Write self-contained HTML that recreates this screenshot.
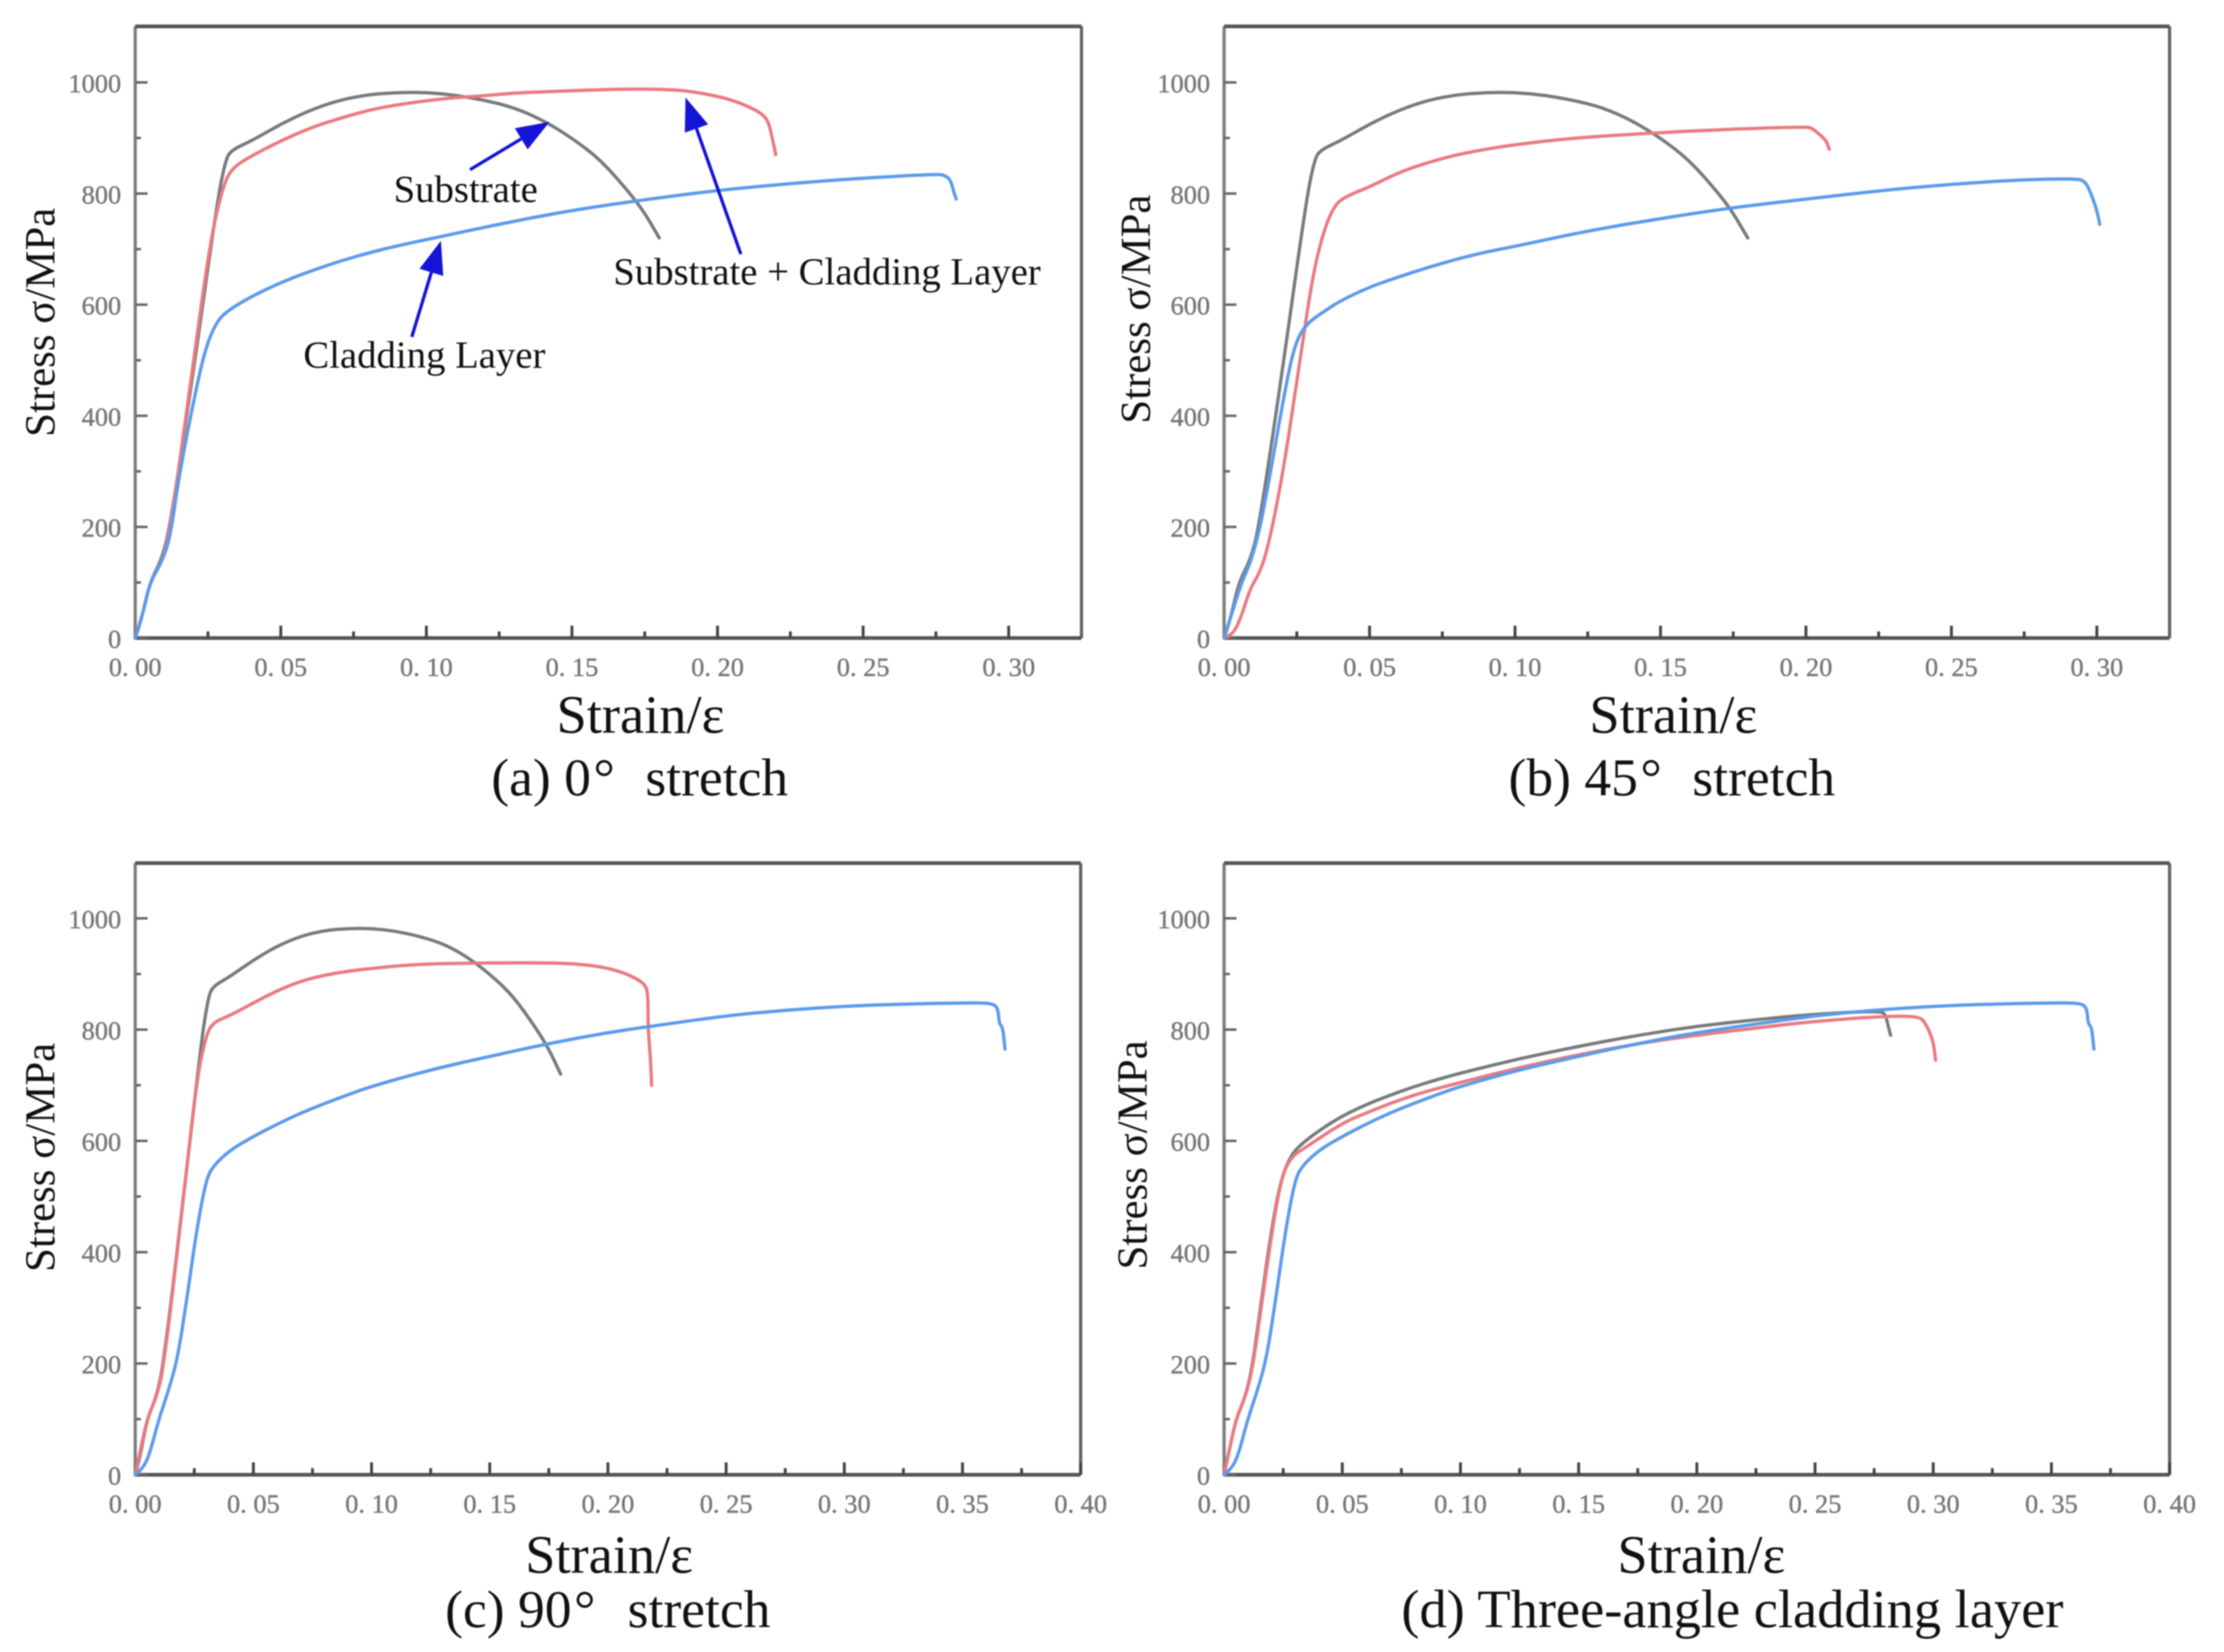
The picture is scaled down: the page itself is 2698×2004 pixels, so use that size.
<!DOCTYPE html>
<html lang="en">
<head>
<meta charset="utf-8">
<title>Stress-strain curves</title>
<style>
html,body{margin:0;padding:0;background:#fff;width:2698px;height:2004px;overflow:hidden}
svg{display:block;filter:blur(0.8px)}
text{font-family:"Liberation Serif","DejaVu Serif",serif;fill:#111}
.tick-label{font-size:32px;fill:#777;stroke:#777;stroke-width:0.5px}
.axis-title{font-size:66px}
.y-title{font-size:52px}
.caption{font-size:65px}
.caption-wide{font-size:66px}
.note{font-size:47px}
</style>
</head>
<body>
<svg id="chart" xmlns="http://www.w3.org/2000/svg" width="2698" height="2004" viewBox="0 0 2698 2004">
  <rect x="0" y="0" width="2698" height="2004" fill="#fff"/>
  <g id="panels"></g>

  <text class="y-title" text-anchor="middle" transform="translate(66 391) rotate(-90)">Stress σ/MPa</text>
  <text class="axis-title" text-anchor="middle" x="777" y="889">Strain/ε</text>
  <text class="caption" x="596" y="965">(a) 0<tspan dx="3">°</tspan><tspan dx="37">stretch</tspan></text>

  <text class="y-title" text-anchor="middle" transform="translate(1395 375) rotate(-90)">Stress σ/MPa</text>
  <text class="axis-title" text-anchor="middle" x="2030" y="889">Strain/ε</text>
  <text class="caption" x="1830" y="965">(b) 45<tspan dx="3">°</tspan><tspan dx="37">stretch</tspan></text>

  <text class="y-title" text-anchor="middle" transform="translate(66 1404) rotate(-90)">Stress σ/MPa</text>
  <text class="axis-title" text-anchor="middle" x="739" y="1908">Strain/ε</text>
  <text class="caption" x="540" y="1974">(c) 90<tspan dx="3">°</tspan><tspan dx="39">stretch</tspan></text>

  <text class="y-title" text-anchor="middle" transform="translate(1391 1401) rotate(-90)">Stress σ/MPa</text>
  <text class="axis-title" text-anchor="middle" x="2064" y="1908">Strain/ε</text>
  <text class="caption-wide" x="1700" y="1974">(d) Three-angle cladding layer</text>

  <text class="note" text-anchor="middle" x="565" y="245">Substrate</text>
  <text class="note" x="744" y="345">Substrate + Cladding Layer</text>
  <text class="note" x="368" y="446">Cladding Layer</text>
</svg>
<script>
// Tick values and labels
const yTicks = [0, 100, 200, 300, 400, 500, 600, 700, 800, 900, 1000];
const yTickLabels = ["0", "", "200", "", "400", "", "600", "", "800", "", "1000"];
const xTicks30 = [0, 0.025, 0.05, 0.075, 0.1, 0.125, 0.15, 0.175, 0.2, 0.225, 0.25, 0.275, 0.3];
const xTickLabels30 = ["0. 00", "", "0. 05", "", "0. 10", "", "0. 15", "", "0. 20", "", "0. 25", "", "0. 30"];
const xTicks40 = [0, 0.025, 0.05, 0.075, 0.1, 0.125, 0.15, 0.175, 0.2, 0.225, 0.25, 0.275, 0.3, 0.325, 0.35, 0.375, 0.4];
const xTickLabels40 = ["0. 00", "", "0. 05", "", "0. 10", "", "0. 15", "", "0. 20", "", "0. 25", "", "0. 30", "", "0. 35", "", "0. 40"];

// Substrate (same curve in panels a, b, c)
const substrateStrain = [0, 0.002, 0.005, 0.009, 0.012, 0.02, 0.028, 0.031, 0.033, 0.04, 0.05, 0.06, 0.07, 0.08, 0.09, 0.1, 0.11, 0.12, 0.13, 0.14, 0.15, 0.16, 0.17, 0.175, 0.18];
const substrateStress = [0, 30, 100, 140, 200, 480, 780, 860, 878, 895, 925, 950, 968, 978, 982, 982, 977, 968, 955, 932, 900, 860, 800, 765, 720];

// Panel a
const aCompositeStrain = [0, 0.003, 0.005, 0.009, 0.012, 0.02, 0.026, 0.03, 0.033, 0.04, 0.05, 0.06, 0.07, 0.08, 0.09, 0.1, 0.11, 0.12, 0.13, 0.14, 0.15, 0.16, 0.17, 0.18, 0.19, 0.2, 0.205, 0.21, 0.215, 0.2175, 0.219, 0.22];
const aCompositeStress = [0, 50, 100, 135, 190, 500, 720, 810, 845, 868, 895, 918, 935, 950, 960, 967, 973, 976, 981, 983, 985, 987, 988, 988, 985, 975, 968, 958, 945, 930, 895, 870];
const aCladdingStrain = [0, 0.002, 0.005, 0.009, 0.012, 0.015, 0.02, 0.024, 0.028, 0.032, 0.04, 0.05, 0.06, 0.07, 0.08, 0.09, 0.1, 0.125, 0.15, 0.175, 0.2, 0.225, 0.25, 0.275, 0.278, 0.28, 0.281, 0.282];
const aCladdingStress = [0, 30, 100, 135, 180, 290, 425, 520, 570, 590, 615, 640, 660, 678, 693, 706, 717, 745, 770, 789, 806, 818, 828, 835, 833, 825, 805, 790];

// Panel b
const bCompositeStrain = [0, 0.003, 0.006, 0.009, 0.012, 0.015, 0.02, 0.025, 0.03, 0.034, 0.038, 0.042, 0.05, 0.06, 0.07, 0.08, 0.09, 0.1, 0.12, 0.15, 0.18, 0.2, 0.202, 0.205, 0.207, 0.208];
const bCompositeStress = [0, 5, 40, 90, 115, 160, 290, 460, 640, 730, 780, 795, 812, 838, 856, 870, 880, 888, 900, 910, 917, 920, 918, 905, 895, 880];
const bCladdingStrain = [0, 0.003, 0.006, 0.009, 0.012, 0.015, 0.02, 0.024, 0.028, 0.035, 0.04, 0.05, 0.06, 0.07, 0.08, 0.09, 0.1, 0.125, 0.15, 0.175, 0.2, 0.225, 0.25, 0.275, 0.293, 0.296, 0.298, 0.3, 0.301];
const bCladdingStress = [0, 50, 100, 135, 190, 270, 420, 525, 565, 590, 607, 632, 650, 667, 682, 695, 705, 733, 755, 775, 790, 805, 817, 825, 827, 822, 800, 770, 745];

// Panel c
const cCompositeStrain = [0, 0.002, 0.005, 0.009, 0.012, 0.02, 0.026, 0.03, 0.033, 0.04, 0.05, 0.06, 0.07, 0.08, 0.09, 0.1, 0.12, 0.15, 0.18, 0.195, 0.205, 0.212, 0.216, 0.217, 0.217, 0.218, 0.2185];
const cCompositeStress = [0, 40, 100, 140, 190, 480, 710, 790, 813, 825, 848, 870, 887, 898, 905, 910, 918, 920, 920, 915, 905, 892, 880, 860, 800, 750, 700];
const cCladdingStrain = [0, 0.003, 0.006, 0.01, 0.014, 0.018, 0.022, 0.026, 0.03, 0.033, 0.04, 0.05, 0.06, 0.07, 0.08, 0.09, 0.1, 0.125, 0.15, 0.175, 0.2, 0.225, 0.25, 0.275, 0.3, 0.325, 0.35, 0.362, 0.365, 0.3655, 0.367, 0.368];
const cCladdingStress = [0, 10, 35, 100, 150, 210, 320, 440, 530, 555, 583, 608, 630, 650, 667, 683, 698, 728, 752, 775, 795, 810, 825, 835, 842, 846, 848, 848, 840, 810, 805, 765];

// Panel d (three-angle cladding layer)
const d0Strain = [0, 0.002, 0.005, 0.009, 0.012, 0.015, 0.02, 0.024, 0.028, 0.032, 0.04, 0.05, 0.06, 0.07, 0.08, 0.09, 0.1, 0.125, 0.15, 0.175, 0.2, 0.225, 0.25, 0.278, 0.28, 0.281, 0.282];
const d0Stress = [0, 40, 100, 140, 195, 290, 440, 530, 572, 592, 618, 645, 665, 682, 697, 710, 722, 748, 770, 790, 806, 818, 828, 834, 825, 805, 790];
const d45Strain = [0, 0.002, 0.005, 0.009, 0.012, 0.015, 0.02, 0.024, 0.028, 0.035, 0.05, 0.06, 0.07, 0.08, 0.09, 0.1, 0.125, 0.15, 0.175, 0.2, 0.225, 0.25, 0.275, 0.294, 0.297, 0.3, 0.301];
const d45Stress = [0, 40, 100, 140, 190, 280, 430, 530, 570, 590, 632, 650, 667, 682, 694, 705, 732, 755, 775, 790, 803, 815, 823, 825, 810, 780, 745];
const d90Strain = cCladdingStrain;
const d90Stress = cCladdingStress;

// Annotation arrows in data units (tail -> tip)
const arrowNames = ["substrate", "composite", "cladding"];
const arrowTailStrain = [0.115, 0.208, 0.095];
const arrowTailStress = [843, 691, 542];
const arrowTipStrain = [0.1423, 0.189, 0.105];
const arrowTipStress = [929, 973, 715];

const COLORS = { gray: "#777b7e", red: "#e97a80", blue: "#5c9bea" };
const NS = "http://www.w3.org/2000/svg";

function make(parent, tag, attrs) {
  const el = document.createElementNS(NS, tag);
  for (const k in attrs) el.setAttribute(k, attrs[k]);
  parent.appendChild(el);
  return el;
}

function smoothPath(pts) {
  let d = "M" + pts[0][0].toFixed(1) + " " + pts[0][1].toFixed(1);
  for (let i = 1; i < pts.length - 1; i++) {
    const mx = (pts[i][0] + pts[i + 1][0]) / 2;
    const my = (pts[i][1] + pts[i + 1][1]) / 2;
    d += "Q" + pts[i][0].toFixed(1) + " " + pts[i][1].toFixed(1) + " " + mx.toFixed(1) + " " + my.toFixed(1);
  }
  const last = pts[pts.length - 1];
  d += "L" + last[0].toFixed(1) + " " + last[1].toFixed(1);
  return d;
}

function drawPanel(cfg) {
  const root = document.getElementById("panels");
  const g = make(root, "g", {});
  
  

  const sx = v => cfg.left + (v / cfg.xMax) * (cfg.right - cfg.left);
  const sy = v => cfg.y0 - (v / 1000) * (cfg.y0 - cfg.y1000);

  const leftEdge = make(g, "line", { x1: cfg.left, x2: cfg.left, y1: cfg.top, y2: cfg.y0, stroke: "#808080", "stroke-width": 4 });
  
  
  const rightEdge = make(g, "line", { x1: cfg.right, x2: cfg.right, y1: cfg.top, y2: cfg.y0, stroke: "#666", "stroke-width": 4 });
  
  
  const topEdge = make(g, "line", { x1: cfg.left, x2: cfg.right, y1: cfg.top, y2: cfg.top, stroke: "#555", "stroke-width": 4.5 });
  
  
  const bottomEdge = make(g, "line", { x1: cfg.left, x2: cfg.right, y1: cfg.y0, y2: cfg.y0, stroke: "#555", "stroke-width": 4.5 });
  
  

  yTicks.forEach((v, i) => {
    const major = yTickLabels[i] !== "";
    const t = make(g, "line", { x1: cfg.left, x2: cfg.left + (major ? 15 : 7), y1: sy(v), y2: sy(v), stroke: "#666", "stroke-width": 3 });
    
    
    if (major) {
      const lab = make(g, "text", { x: cfg.left - 17, y: sy(v) + 12, "text-anchor": "end", class: "tick-label" });
      
      
      lab.textContent = yTickLabels[i];
    }
  });

  cfg.xTicks.forEach((v, i) => {
    const major = cfg.xLabels[i] !== "";
    if (v > 0) {
      const t = make(g, "line", { y1: cfg.y0, y2: cfg.y0 - (major ? 15 : 8), x1: sx(v), x2: sx(v), stroke: "#444", "stroke-width": 3.5 });
      
      
    }
    if (major) {
      const lab = make(g, "text", { x: sx(v), y: cfg.y0 + 46, "text-anchor": "middle", class: "tick-label" });
      
      
      lab.textContent = cfg.xLabels[i];
    }
  });

  cfg.series.forEach(s => {
    const pts = s.x.map((v, i) => [sx(v), sy(s.y[i])]);
    const p = make(g, "path", { d: smoothPath(pts), fill: "none", stroke: s.color, "stroke-width": 4, "stroke-linejoin": "round", "stroke-linecap": "round" });
    
    
  });

  if (cfg.arrows) {
    arrowNames.forEach((n, i) => {
      const x1 = sx(arrowTailStrain[i]), y1 = sy(arrowTailStress[i]);
      const x2 = sx(arrowTipStrain[i]), y2 = sy(arrowTipStress[i]);
      const len = Math.hypot(x2 - x1, y2 - y1);
      const ux = (x2 - x1) / len, uy = (y2 - y1) / len;
      const bx = x2 - ux * 40, by = y2 - uy * 40;
      const line = make(g, "line", { x1: x1, y1: y1, x2: bx, y2: by, stroke: "#1414d6", "stroke-width": 4 });
      
      
      const head = [[x2, y2], [bx - uy * 15, by + ux * 15], [bx + uy * 15, by - ux * 15]];
      const tip = make(g, "polygon", { points: head.map(q => q[0].toFixed(1) + "," + q[1].toFixed(1)).join(" "), fill: "#1414d6" });
      
      
    });
  }
}

drawPanel({ id: "a", left: 164, right: 1312, top: 32, y0: 774, y1000: 100, xMax: 0.325, xTicks: xTicks30, xLabels: xTickLabels30, arrows: true, series: [
  { name: "substrate", x: substrateStrain, y: substrateStress, color: COLORS.gray },
  { name: "substrate-cladding", x: aCompositeStrain, y: aCompositeStress, color: COLORS.red },
  { name: "cladding", x: aCladdingStrain, y: aCladdingStress, color: COLORS.blue }
]});
drawPanel({ id: "b", left: 1485, right: 2632, top: 32, y0: 774, y1000: 100, xMax: 0.325, xTicks: xTicks30, xLabels: xTickLabels30, series: [
  { name: "substrate", x: substrateStrain, y: substrateStress, color: COLORS.gray },
  { name: "substrate-cladding", x: bCompositeStrain, y: bCompositeStress, color: COLORS.red },
  { name: "cladding", x: bCladdingStrain, y: bCladdingStress, color: COLORS.blue }
]});
drawPanel({ id: "c", left: 164, right: 1311, top: 1047, y0: 1789, y1000: 1114, xMax: 0.4, xTicks: xTicks40, xLabels: xTickLabels40, series: [
  { name: "substrate", x: substrateStrain, y: substrateStress, color: COLORS.gray },
  { name: "substrate-cladding", x: cCompositeStrain, y: cCompositeStress, color: COLORS.red },
  { name: "cladding", x: cCladdingStrain, y: cCladdingStress, color: COLORS.blue }
]});
drawPanel({ id: "d", left: 1485, right: 2632, top: 1047, y0: 1789, y1000: 1114, xMax: 0.4, xTicks: xTicks40, xLabels: xTickLabels40, series: [
  { name: "cladding-0", x: d0Strain, y: d0Stress, color: COLORS.gray },
  { name: "cladding-45", x: d45Strain, y: d45Stress, color: COLORS.red },
  { name: "cladding-90", x: d90Strain, y: d90Stress, color: COLORS.blue }
]});
</script>
</body>
</html>
